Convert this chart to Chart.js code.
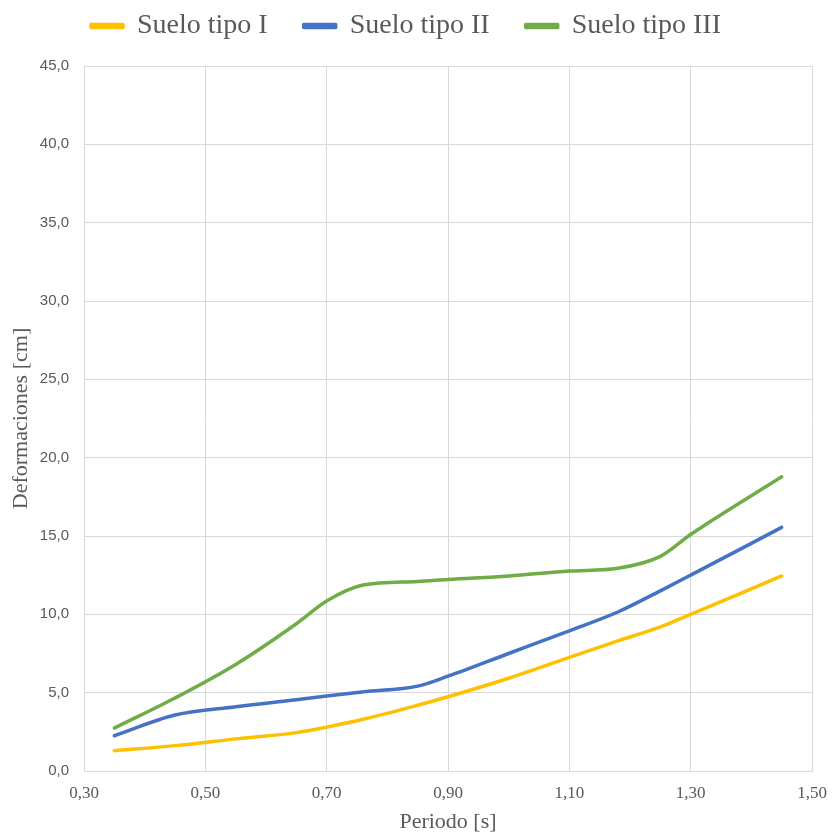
<!DOCTYPE html>
<html>
<head>
<meta charset="utf-8">
<script src="https://cdn.jsdelivr.net/npm/chart.js@4.4.1/dist/chart.umd.min.js"></script>
<style>
  body { margin: 0; background: #ffffff; }
  #wrap { width: 832px; height: 835px; }
</style>
</head>
<body>
<div id="wrap"><canvas id="chart" width="832" height="835"></canvas></div>
<script>
// periods [s]
const periodo = [0.35, 0.45, 0.55, 0.65, 0.70, 0.76, 0.85, 0.90, 1.00, 1.10, 1.18, 1.25, 1.30, 1.45];

// deformations [cm]
const sueloI   = [1.30, 1.62, 2.05, 2.45, 2.80, 3.30, 4.20, 4.74, 5.92, 7.25, 8.30, 9.20, 10.00, 12.45];
const sueloII  = [2.25, 3.57, 4.10, 4.55, 4.79, 5.05, 5.42, 6.05, 7.50, 8.95, 10.15, 11.50, 12.50, 15.55];
const sueloIII = [2.74, 4.66, 6.80, 9.40, 10.85, 11.87, 12.10, 12.23, 12.45, 12.76, 12.94, 13.70, 15.10, 18.78];

const seriesNames = ['Suelo tipo I', 'Suelo tipo II', 'Suelo tipo III'];
const xTicks = [0.30, 0.50, 0.70, 0.90, 1.10, 1.30, 1.50];

const toPoints = (ys) => ys.map((y, i) => ({ x: periodo[i], y: y }));
const comma = (v, d) => Number(v).toFixed(d).replace('.', ',');

// pin the legend height so the plot starts where the reference does
const legendHeight = {
    id: 'legendHeight',
    beforeInit(chart) {
        const fit = chart.legend.fit;
        chart.legend.fit = function () {
            fit.bind(chart.legend)();
            this.height = 90;
        };
    }
};

new Chart(document.getElementById('chart'), {
    type: 'line',
    data: {
        datasets: [
            { label: seriesNames[0], data: toPoints(sueloI),   borderColor: '#FFC000', backgroundColor: '#FFC000' },
            { label: seriesNames[1], data: toPoints(sueloII),  borderColor: '#4472C4', backgroundColor: '#4472C4' },
            { label: seriesNames[2], data: toPoints(sueloIII), borderColor: '#70AD47', backgroundColor: '#70AD47' }
        ]
    },
    options: {
        responsive: false,
        animation: false,
        layout: { padding: { left: 0, right: 20, top: -24, bottom: 0 } },
        elements: {
            point: { radius: 0 },
            line: { borderWidth: 3.5, cubicInterpolationMode: 'monotone', borderCapStyle: 'round', borderJoinStyle: 'round' }
        },
        plugins: {
            legend: {
                position: 'top',
                labels: {
                    boxWidth: 32,
                    boxHeight: 3,
                    padding: 36,
                    color: '#595959',
                    font: { family: '"Liberation Serif", "Times New Roman", serif', size: 28 }
                }
            },
            tooltip: { enabled: false }
        },
        scales: {
            x: {
                type: 'linear',
                min: 0.30,
                max: 1.50,
                afterBuildTicks(scale) {
                    scale.ticks = xTicks.map(v => ({ value: v }));
                },
                afterFit(scale) {
                    scale.height = 64;
                    scale.paddingLeft = 0;
                    scale.paddingRight = 0;
                },
                grid: { color: '#d9d9d9', drawTicks: false },
                border: { color: '#d9d9d9' },
                ticks: {
                    padding: 12,
                    color: '#595959',
                    font: { family: '"Liberation Serif", "Times New Roman", serif', size: 17 },
                    callback: (v) => comma(v, 2)
                },
                title: {
                    display: true,
                    text: 'Periodo [s]',
                    color: '#595959',
                    padding: { top: 2, bottom: 0 },
                    font: { family: '"Liberation Serif", "Times New Roman", serif', size: 22 }
                }
            },
            y: {
                min: 0,
                max: 45,
                afterFit(scale) { scale.width = 84; },
                grid: { color: '#d9d9d9', drawTicks: false },
                border: { color: '#d9d9d9' },
                ticks: {
                    stepSize: 5,
                    padding: 15,
                    color: '#595959',
                    font: { family: '"Liberation Sans", Arial, sans-serif', size: 15 },
                    callback: (v) => comma(v, 1)
                },
                title: {
                    display: true,
                    text: 'Deformaciones [cm]',
                    color: '#595959',
                    padding: { top: 8, bottom: 0 },
                    font: { family: '"Liberation Serif", "Times New Roman", serif', size: 22 }
                }
            }
        }
    },
    plugins: [legendHeight]
});
</script>
</body>
</html>
